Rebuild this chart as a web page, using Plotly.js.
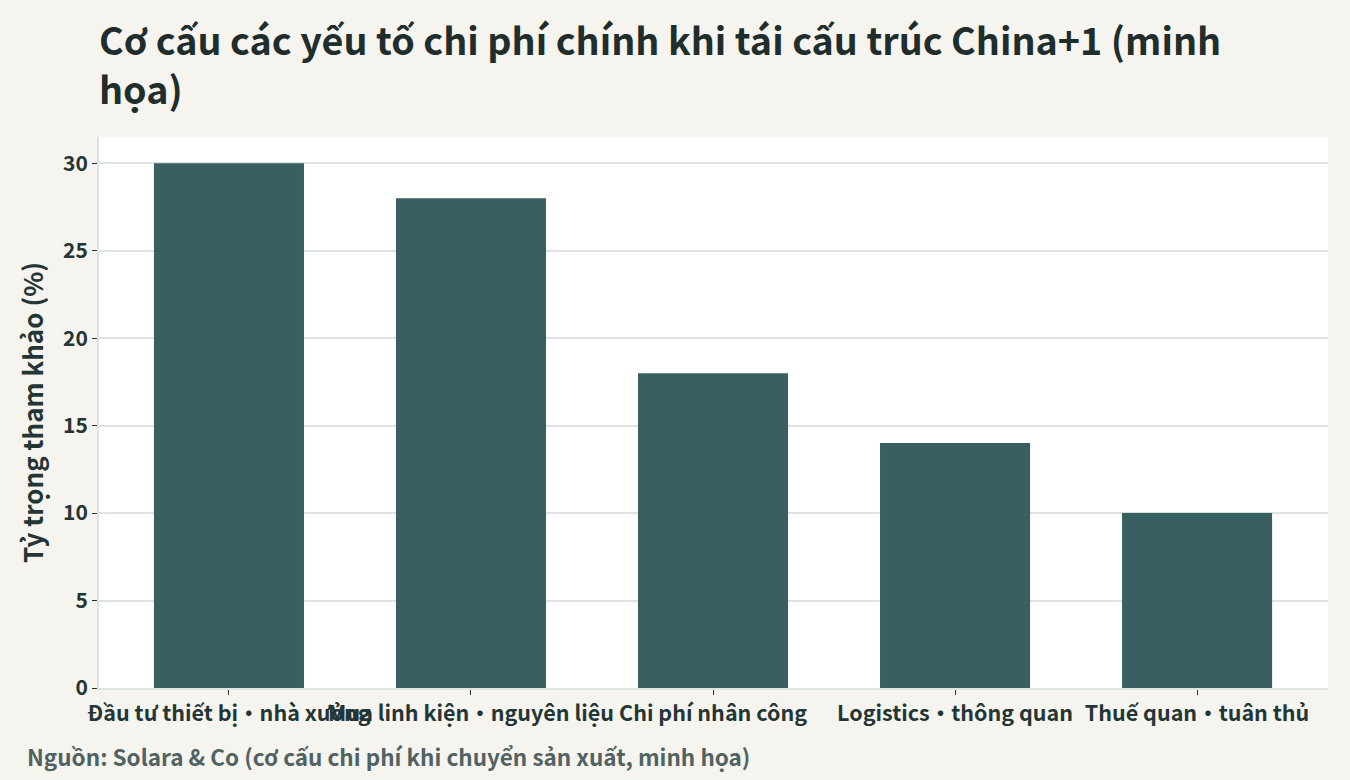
<!DOCTYPE html>
<html>
<head>
<meta charset="utf-8">
<script src="https://cdn.plot.ly/plotly-3.0.1.min.js"></script>
<style>
html,body{margin:0;padding:0;background:#f5f4ef;}
#chart{width:1350px;height:780px;}
</style>
</head>
<body>
<div id="chart"></div>
<script>
const categories = [
  "Đầu tư thiết bị・nhà xưởng",
  "Mua linh kiện・nguyên liệu",
  "Chi phí nhân công",
  "Logistics・thông quan",
  "Thuế quan・tuân thủ"
];
const shares = [30, 28, 18, 14, 10];
const yTicks = [0, 5, 10, 15, 20, 25, 30];

const FONT = '"Noto Sans CJK SC", "Noto Sans CJK JP", "Noto Sans", sans-serif';

const data = [{
  type: 'bar',
  x: categories,
  y: shares,
  marker: {color: '#386060'},
  hoverinfo: 'x+y'
}];

const layout = {
  width: 1350,
  height: 780,
  paper_bgcolor: '#f5f4ef',
  plot_bgcolor: '#ffffff',
  font: {family: FONT, color: '#243535'},
  margin: {l: 99, r: 22, t: 137, b: 92},
  bargap: 0.38,
  title: {
    text: '<b>Cơ cấu các yếu tố chi phí chính khi tái cấu trúc China+1 (minh<br>họa)</b>',
    x: 0, xref: 'paper', xanchor: 'left',
    y: 0.929, yref: 'container', yanchor: 'top',
    font: {family: FONT, size: 37.7, color: '#1f2d2d'}
  },
  xaxis: {
    range: [-0.537, 4.541],
    tickangle: 0,
    tickfont: {family: FONT, size: 21.5, color: '#243535', weight: 'bold'},
    ticks: 'outside', ticklen: 5, tickcolor: '#243535',
    showline: true, linecolor: '#dde3e3', linewidth: 2,
    showgrid: false
  },
  yaxis: {
    range: [0, 31.5],
    tickvals: yTicks,
    tickfont: {family: FONT, size: 21, color: '#243535', weight: 'bold'},
    ticks: 'outside', ticklen: 5, tickcolor: '#243535',
    showline: true, linecolor: '#dde3e3', linewidth: 2,
    gridcolor: '#dde3e3', gridwidth: 1.5,
    zeroline: false,
    title: {text: '<b>Tỷ trọng tham khảo (%)</b>', font: {family: FONT, size: 26, color: '#243535'}, standoff: 12}
  },
  annotations: [{
    text: '<b>Nguồn: Solara & Co (cơ cấu chi phí khi chuyển sản xuất, minh họa)</b>',
    xref: 'paper', yref: 'paper',
    x: -0.060, y: -0.090, xanchor: 'left', yanchor: 'top',
    showarrow: false,
    font: {family: FONT, size: 22.5, color: '#506262'}
  }],
  showlegend: false
};

Plotly.newPlot('chart', data, layout, {displayModeBar: false, responsive: false});
</script>
</body>
</html>
